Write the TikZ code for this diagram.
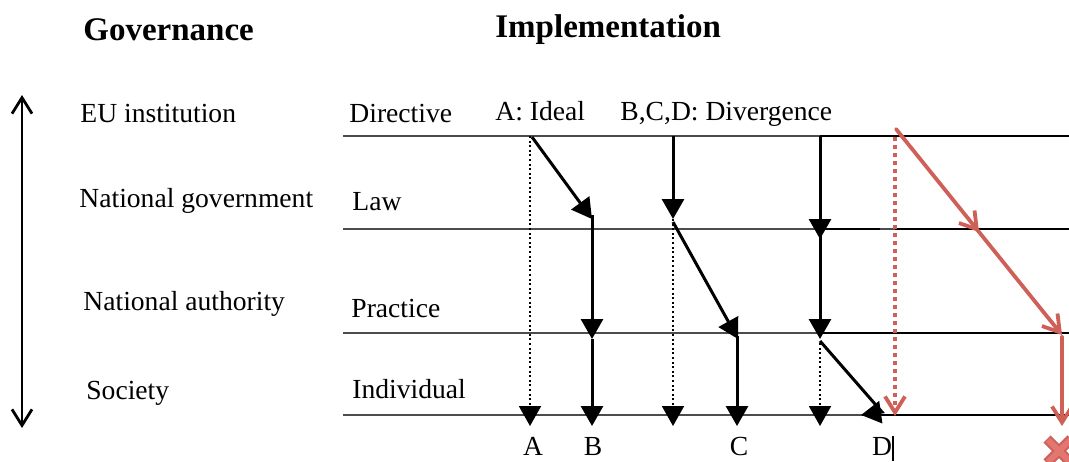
\documentclass[tikz,border=0pt]{standalone}
\usepackage{fontspec}
\setmainfont{Liberation Serif}
\usetikzlibrary{arrows.meta,decorations.markings,calc}
\definecolor{redline}{RGB}{207,96,88}
\definecolor{redfill}{RGB}{226,118,112}
\begin{document}
\begin{tikzpicture}[x=0.5pt,y=-0.5pt,
  lbl/.style={anchor=base west, inner sep=0pt, font=\fontsize{13.8}{16}\selectfont},
  letter/.style={anchor=base, inner sep=0pt, font=\fontsize{13.8}{16}\selectfont},
  head/.style={anchor=base west, inner sep=0pt, font=\bfseries\fontsize{16.5}{19}\selectfont},
  level/.style={draw=black!70, line width=0.9pt},
  levelbold/.style={draw=black, line width=1.3pt},
  flow/.style={line width=1.5pt, -{Triangle[length=10pt,width=11pt]}},
  flowdot/.style={line width=1pt, dash pattern=on 1pt off 1.3pt, -{Triangle[length=10pt,width=11pt]}},
  barb/.style={Straight Barb[length=8pt,width=10pt,line width=1.9pt]},
  redflow/.style={draw=redline, line width=1.9pt, line cap=round, -{Straight Barb[length=8pt,width=10pt,line width=1.9pt]}},
  reddot/.style={redflow, dash pattern=on 2pt off 2pt, line cap=butt},
  midbarb/.style={postaction={decorate}, decoration={markings,
    mark=at position #1 with {\arrow{Straight Barb[length=8pt,width=10pt,line width=1.9pt]}}}}
]
\useasboundingbox (0,0) rectangle (1069,461);
\clip (0,0) rectangle (1069,461);

% headings
\node[head] (gov) at (83,40) {Governance};
\node[head] (impl) at (495,37) {Implementation};

% governance levels and vertical double arrow
\coordinate (top) at (22,95);
\coordinate (bot) at (22,428);
\draw[line width=1.4pt, {Straight Barb[length=8pt,width=10pt,line width=1.4pt]}-{Straight Barb[length=8pt,width=10pt,line width=1.4pt]}] (top) -- (bot);
\node[lbl] (eu)   at (80,122)  {EU institution};
\node[lbl] (ngov) at (79,207)  {National government};
\node[lbl] (nauth) at (83,310) {National authority};
\node[lbl] (soc)  at (86,399)  {Society};

% implementation levels
\node[lbl] (dir)  at (349,122) {Directive};
\node[lbl] (law)  at (352,210) {Law};
\node[lbl] (prac) at (351,317) {Practice};
\node[lbl] (indv) at (352,398) {Individual};
\node[lbl] (ideal) at (495,120) {A: Ideal};
\node[lbl] (div)  at (620,120) {B,C,D: Divergence};

% level lines
\coordinate (L1a) at (343,136); \coordinate (L1b) at (1069,136);
\coordinate (L2a) at (343,229); \coordinate (L2b) at (1069,229);
\coordinate (L3a) at (343,333); \coordinate (L3b) at (1069,333);
\coordinate (L4a) at (343,415); \coordinate (L4b) at (1069,415);
\draw[level] (L1a) -- (L1b);
\draw[level] (L2a) -- (L2b);
\draw[level] (L3a) -- (L3b);
\draw[level] (L4a) -- (L4b);
\draw[levelbold] (820,136) -- (L1b);
\draw[levelbold] (820,229) -- (880,229) (895,229) -- (L2b);
\draw[levelbold] (820,333) -- (L3b);
\draw[levelbold] (862,415) -- (L4b);

% path A (ideal)
\coordinate (a0) at (530,136);
\coordinate (a3) at (530,426);
\draw[flowdot] (a0) -- (a3);

% path B
\coordinate (b0) at (532,137);
\coordinate (b1) at (592,219);
\coordinate (b2) at (592,339);
\coordinate (b3) at (592,426);
\draw[flow] (b0) -- (b1);
\draw[flow] (592,215) -- (b2);
\draw[flow] (b2) -- (b3);

% path C
\coordinate (c0) at (673,136);
\coordinate (c1) at (673,219);
\coordinate (c2) at (738,339);
\coordinate (c3) at (737,426);
\coordinate (cd) at (673,426);
\draw[flow] (c0) -- (c1);
\draw[flowdot] (c1) -- (cd);
\draw[flow] (673,222) -- (c2);
\draw[flow] (737,336) -- (c3);

% path D
\coordinate (d0) at (820,136);
\coordinate (d1) at (820,239);
\coordinate (d2) at (820,339);
\coordinate (dd) at (820,426);
\coordinate (dk) at (882,412);
\coordinate (d3) at (861,415);
\draw[flow] (d0) -- (d1);
\draw[flow] (820,232) -- (d2);
\draw[flowdot] (820,343) -- (dd);
\draw[line width=1.5pt, -{Triangle[length=10pt,width=11pt]}] (820,341) -- (dk) -- (d3);

% bottom letters
\node[letter] (la) at (533,455) {A};
\node[letter] (lb) at (593,455) {B};
\node[letter] (lc) at (739,455) {C};
\node[letter] (ld) at (882,455) {D};
\draw[line width=0.7pt] (893,436) -- (893,461);

% red paths
\coordinate (r0) at (895,137);
\coordinate (r1) at (895,416);
\draw[reddot] (r0) -- (r1);
\coordinate (s0) at (896,129);
\coordinate (s1) at (1062,335);
\coordinate (s2) at (1062,426);
\draw[redflow, midbarb=0.5] (s0) -- (s1);
\draw[redflow] (1062,337) -- (s2);

% red cross mark
\coordinate (x0) at (1059,451);
\draw[redline, line width=5pt] ($(x0)+(-12,-12)$) -- ($(x0)+(12,12)$) ($(x0)+(-12,12)$) -- ($(x0)+(12,-12)$);
\draw[redfill, line width=3pt] ($(x0)+(-11,-11)$) -- ($(x0)+(11,11)$) ($(x0)+(-11,11)$) -- ($(x0)+(11,-11)$);
\end{tikzpicture}
\end{document}
